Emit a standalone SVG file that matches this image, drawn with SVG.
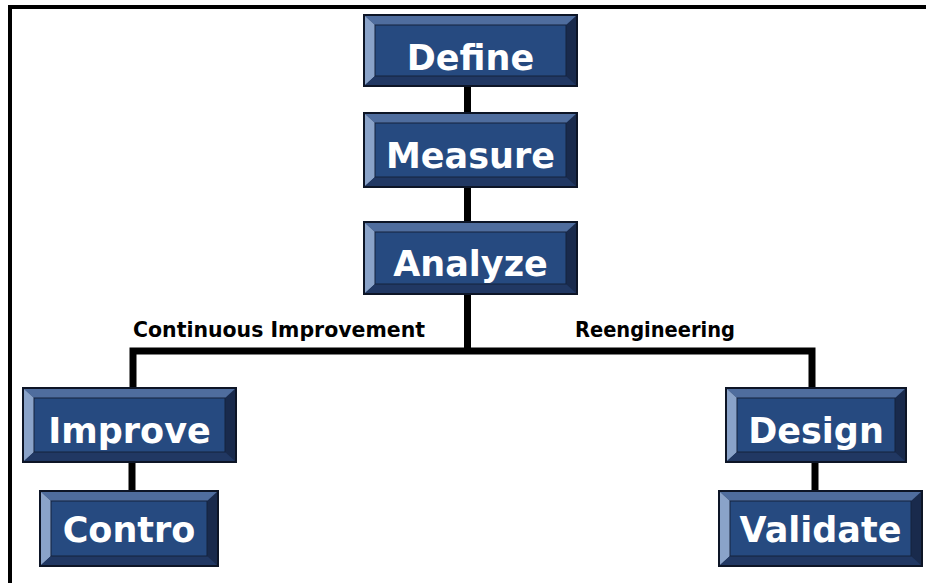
<svg xmlns="http://www.w3.org/2000/svg" width="926" height="583" viewBox="0 0 926 583">
  <style>
    .bt { fill: #4f6d9e; }
    .bl { fill: #8aa3c9; }
    .br { fill: #192a4c; }
    .bb { fill: #213863; }
    .face { fill: #264a80; stroke: #14223d; stroke-width: 1; }
    .edge { fill: none; stroke: #0d1526; stroke-width: 2; }
    .lbl { font-family: "DejaVu Sans", Verdana, sans-serif; font-weight: bold; font-size: 35px; fill: #ffffff; text-anchor: middle; }
    .cap { font-family: "DejaVu Sans Condensed", "DejaVu Sans", sans-serif; font-weight: bold; font-size: 21px; fill: #000000; }
    .wire { stroke: #000000; stroke-width: 7; fill: none; }
  </style>

  <rect width="926" height="583" fill="#ffffff"/>

  <!-- outer frame: top and left rule -->
  <rect x="8" y="5" width="918" height="4" fill="#000"/>
  <rect x="8" y="5" width="4" height="578" fill="#000"/>

  <!-- connectors -->
  <g id="connectors">
    <line class="wire" x1="467.5" y1="86" x2="467.5" y2="351"/>
    <polyline class="wire" points="133,388 133,351 812,351 812,388"/>
    <line class="wire" x1="132" y1="462" x2="132" y2="491"/>
    <line class="wire" x1="815" y1="462" x2="815" y2="491"/>
  </g>

  <text class="cap" x="133" y="337" textLength="292" lengthAdjust="spacingAndGlyphs">Continuous Improvement</text>
  <text class="cap" x="575" y="337" textLength="160" lengthAdjust="spacingAndGlyphs">Reengineering</text>

  <!-- bevelled step boxes -->
  <g id="define" transform="translate(364,15)">
    <rect class="br" width="213" height="71"/>
    <polygon class="bt" points="0,0 213,0 202,10 11,10"/>
    <polygon class="bl" points="0,0 11,10 11,61 0,71"/>
    <polygon class="bb" points="0,71 213,71 202,61 11,61"/>
    <rect class="face" x="11" y="10" width="191" height="51"/>
    <rect class="edge" width="213" height="71"/>
    <text class="lbl" x="106.5" y="55">Define</text>
  </g>

  <g id="measure" transform="translate(364,113)">
    <rect class="br" width="213" height="74"/>
    <polygon class="bt" points="0,0 213,0 202,10 11,10"/>
    <polygon class="bl" points="0,0 11,10 11,64 0,74"/>
    <polygon class="bb" points="0,74 213,74 202,64 11,64"/>
    <rect class="face" x="11" y="10" width="191" height="54"/>
    <rect class="edge" width="213" height="74"/>
    <text class="lbl" x="106.5" y="55">Measure</text>
  </g>

  <g id="analyze" transform="translate(364,222)">
    <rect class="br" width="213" height="72"/>
    <polygon class="bt" points="0,0 213,0 202,10 11,10"/>
    <polygon class="bl" points="0,0 11,10 11,62 0,72"/>
    <polygon class="bb" points="0,72 213,72 202,62 11,62"/>
    <rect class="face" x="11" y="10" width="191" height="52"/>
    <rect class="edge" width="213" height="72"/>
    <text class="lbl" x="106.5" y="54">Analyze</text>
  </g>

  <g id="improve" transform="translate(23,388)">
    <rect class="br" width="213" height="74"/>
    <polygon class="bt" points="0,0 213,0 202,10 11,10"/>
    <polygon class="bl" points="0,0 11,10 11,64 0,74"/>
    <polygon class="bb" points="0,74 213,74 202,64 11,64"/>
    <rect class="face" x="11" y="10" width="191" height="54"/>
    <rect class="edge" width="213" height="74"/>
    <text class="lbl" x="106.5" y="55">Improve</text>
  </g>

  <g id="control" transform="translate(40,491)">
    <rect class="br" width="178" height="75"/>
    <polygon class="bt" points="0,0 178,0 167,10 11,10"/>
    <polygon class="bl" points="0,0 11,10 11,65 0,75"/>
    <polygon class="bb" points="0,75 178,75 167,65 11,65"/>
    <rect class="face" x="11" y="10" width="156" height="55"/>
    <rect class="edge" width="178" height="75"/>
    <text class="lbl" x="89" y="51">Contro</text>
  </g>

  <g id="design" transform="translate(726,388)">
    <rect class="br" width="180" height="74"/>
    <polygon class="bt" points="0,0 180,0 169,10 11,10"/>
    <polygon class="bl" points="0,0 11,10 11,64 0,74"/>
    <polygon class="bb" points="0,74 180,74 169,64 11,64"/>
    <rect class="face" x="11" y="10" width="158" height="54"/>
    <rect class="edge" width="180" height="74"/>
    <text class="lbl" x="90" y="55">Design</text>
  </g>

  <g id="validate" transform="translate(719,491)">
    <rect class="br" width="203" height="75"/>
    <polygon class="bt" points="0,0 203,0 192,10 11,10"/>
    <polygon class="bl" points="0,0 11,10 11,65 0,75"/>
    <polygon class="bb" points="0,75 203,75 192,65 11,65"/>
    <rect class="face" x="11" y="10" width="181" height="55"/>
    <rect class="edge" width="203" height="75"/>
    <text class="lbl" x="101.5" y="51">Validate</text>
  </g>
</svg>
